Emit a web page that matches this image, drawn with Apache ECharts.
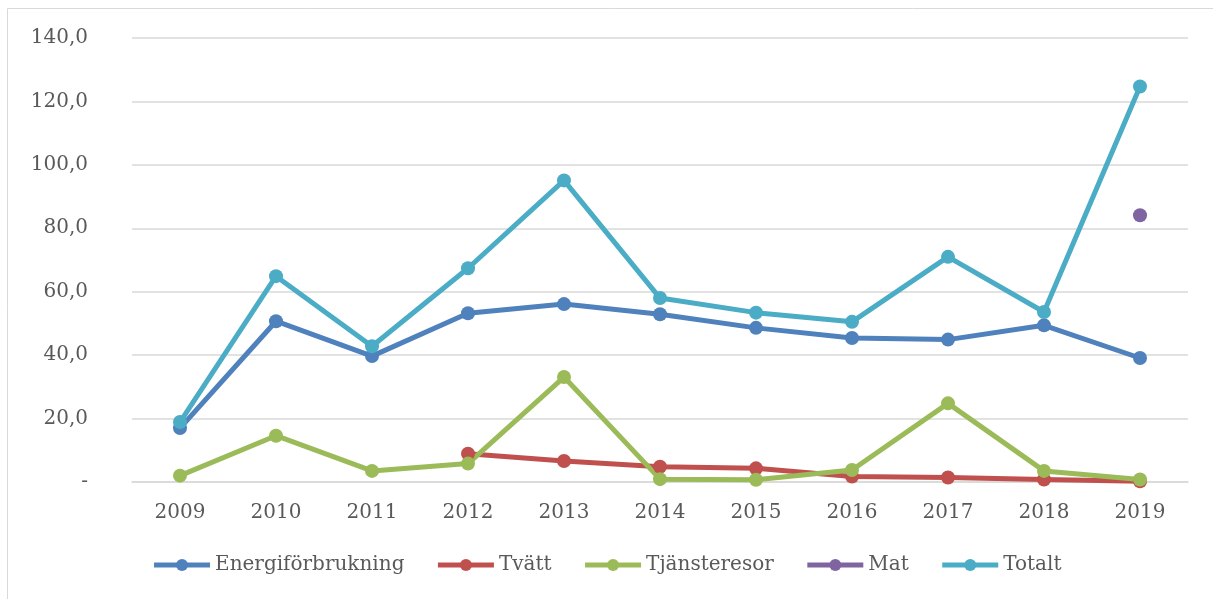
<!DOCTYPE html>
<html>
<head>
<meta charset="utf-8">
<script src="https://cdn.jsdelivr.net/npm/echarts@6/dist/echarts.min.js"></script>
<style>
  html, body { margin: 0; padding: 0; background: #fff; }
  #chart { width: 1213px; height: 599px; }
</style>
</head>
<body>
<div id="chart"></div>
<script>
var years = ['2009', '2010', '2011', '2012', '2013', '2014', '2015', '2016', '2017', '2018', '2019'];
var energi = [17.0, 50.7, 39.7, 53.2, 56.1, 52.9, 48.6, 45.4, 44.9, 49.4, 39.1];
var tvatt = [null, null, null, 8.9, 6.6, 4.8, 4.3, 1.7, 1.4, 0.8, 0.2];
var tjanst = [2.0, 14.6, 3.5, 5.8, 33.1, 0.9, 0.7, 3.8, 24.8, 3.5, 0.8];
var mat = [null, null, null, null, null, null, null, null, null, null, 84.1];
var totalt = [18.9, 64.9, 42.8, 67.4, 95.1, 58.0, 53.4, 50.5, 71.0, 53.6, 124.7];

var fontFam = 'DejaVu Serif';
var txtColor = '#595959';

function lineSeries(name, data, color) {
    return {
        name: name,
        type: 'line',
        data: data,
        symbol: 'circle',
        symbolSize: 14,
        lineStyle: { width: 5, color: color },
        itemStyle: { color: color },
        connectNulls: false
    };
}

var myChart = echarts.init(document.getElementById('chart'));
var option = {
    animation: false,
    color: ['#4F81BD', '#C0504D', '#9BBB59', '#8064A2', '#4BACC6'],
    graphic: [{
        type: 'rect',
        shape: { x: 7.5, y: 8.5, width: 1220, height: 620 },
        style: { fill: 'none', stroke: '#d9d9d9', lineWidth: 1 },
        silent: true
    }],
    grid: { left: 132, right: 25, top: 38, bottom: 117 },
    legend: {
        bottom: 19,
        left: 'center',
        itemWidth: 56,
        itemHeight: 15,
        itemGap: 31,
        lineStyle: { width: 5 },
        textStyle: { fontFamily: fontFam, fontSize: 20, color: txtColor }
    },
    xAxis: {
        type: 'category',
        data: years,
        boundaryGap: true,
        axisLine: { lineStyle: { color: '#d9d9d9', width: 1.5 } },
        axisTick: { show: false },
        axisLabel: { fontFamily: fontFam, fontSize: 20, color: txtColor, margin: 21 }
    },
    yAxis: {
        type: 'value',
        min: 0,
        max: 140,
        interval: 20,
        axisLine: { show: false },
        axisTick: { show: false },
        splitLine: { lineStyle: { color: '#d9d9d9', width: 1.5 } },
        axisLabel: {
            fontFamily: fontFam,
            fontSize: 20,
            color: txtColor,
            margin: 44,
            formatter: function (v) {
                return v === 0 ? '-' : v.toFixed(1).replace('.', ',');
            }
        }
    },
    series: [
        lineSeries('Energiförbrukning', energi, '#4F81BD'),
        lineSeries('Tvätt', tvatt, '#C0504D'),
        lineSeries('Tjänsteresor', tjanst, '#9BBB59'),
        lineSeries('Mat', mat, '#8064A2'),
        lineSeries('Totalt', totalt, '#4BACC6')
    ]
};
myChart.setOption(option);
</script>
</body>
</html>
